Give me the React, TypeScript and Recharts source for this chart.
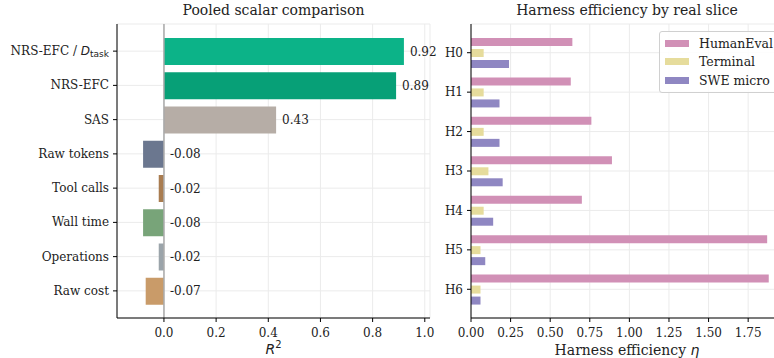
import React from "react";
import {
  Bar,
  BarChart,
  CartesianGrid,
  Cell,
  LabelList,
  ReferenceLine,
  XAxis,
  YAxis,
} from "recharts";

const metrics = [
  "NRS-EFC / D_task",
  "NRS-EFC",
  "SAS",
  "Raw tokens",
  "Tool calls",
  "Wall time",
  "Operations",
  "Raw cost",
];
const r2 = [0.92, 0.89, 0.43, -0.08, -0.02, -0.08, -0.02, -0.07];
const metricColors = [
  "#0cb388",
  "#07a077",
  "#b6ada6",
  "#6b778f",
  "#a97c50",
  "#78a479",
  "#9ba4aa",
  "#c99b69",
];

const harnesses = ["H0", "H1", "H2", "H3", "H4", "H5", "H6"];
const humanEval = [0.64, 0.63, 0.76, 0.89, 0.7, 1.87, 1.88];
const terminal = [0.08, 0.08, 0.08, 0.11, 0.08, 0.06, 0.06];
const sweMicro = [0.24, 0.18, 0.18, 0.2, 0.14, 0.09, 0.06];

const sliceSeries = [
  { key: "humanEval", name: "HumanEval", color: "#d190b6" },
  { key: "terminal", name: "Terminal", color: "#e6dc9c" },
  { key: "sweMicro", name: "SWE micro", color: "#8f87c2" },
];

const r2Rows = metrics.map((m, i) => ({ metric: m, r2: r2[i] }));
const sliceRows = harnesses.map((h, i) => ({
  harness: h,
  humanEval: humanEval[i],
  terminal: terminal[i],
  sweMicro: sweMicro[i],
}));

const SERIF = "'DejaVu Serif', serif";
const SANS = "'DejaVu Sans', sans-serif";
const INK = "#222";
const GRID = "#ebebeb";

function MetricTick({ x, y, payload }: any) {
  const v: string = payload.value;
  if (v === "NRS-EFC / D_task") {
    return (
      <text x={x} y={y} textAnchor="end" dominantBaseline="central" fill={INK} fontSize={12}>
        <tspan fontFamily={SERIF}>NRS-EFC / </tspan>
        <tspan fontFamily={SANS} fontStyle="italic">D</tspan>
        <tspan fontFamily={SANS} fontSize={9} dy={3}>task</tspan>
      </text>
    );
  }
  return (
    <text x={x} y={y} textAnchor="end" dominantBaseline="central" fill={INK} fontSize={12} fontFamily={SERIF}>
      {v}
    </text>
  );
}

// value printed just right of the bar end (or of zero for negative bars)
function ValueLabel({ x, y, width, height, value }: any) {
  const right = Math.max(x, x + width);
  return (
    <text
      x={right + 6}
      y={y + height / 2}
      dominantBaseline="central"
      fontFamily={SERIF}
      fontSize={12}
      fill={INK}
    >
      {Number(value).toFixed(2)}
    </text>
  );
}

function SliceLegend() {
  return (
    <div
      style={{
        position: "absolute",
        left: 659,
        top: 31,
        border: "1px solid #d0d0d0",
        borderRadius: 3,
        background: "rgba(255,255,255,0.85)",
        padding: "2px 8px 2px 5px",
        width: 120,
      }}
    >
      {sliceSeries.map((s) => (
        <div key={s.key} style={{ display: "flex", alignItems: "center", height: 18.5 }}>
          <span style={{ width: 24, height: 7, background: s.color, marginRight: 10 }} />
          <span style={{ fontFamily: SERIF, fontSize: 12.5, color: INK }}>{s.name}</span>
        </div>
      ))}
    </div>
  );
}

const titleStyle: React.CSSProperties = {
  position: "absolute",
  top: 2,
  fontFamily: SERIF,
  fontSize: 14,
  color: INK,
  textAlign: "center",
  whiteSpace: "nowrap",
};

export default function App() {
  return (
    <div
      style={{
        position: "absolute",
        left: 0,
        top: 0,
        width: 774,
        height: 358,
        overflow: "hidden",
        background: "#fff",
      }}
    >
      <div style={{ ...titleStyle, left: 117, width: 313 }}>Pooled scalar comparison</div>
      <div style={{ ...titleStyle, left: 471, width: 312 }}>Harness efficiency by real slice</div>

      <div style={{ position: "absolute", left: 0, top: 0 }}>
        <BarChart
          width={440}
          height={358}
          data={r2Rows}
          layout="vertical"
          margin={{ top: 24, right: 10, bottom: 0, left: 0 }}
        >
          <CartesianGrid stroke={GRID} />
          <XAxis
            type="number"
            domain={[-0.18, 1.02]}
            ticks={[0, 0.2, 0.4, 0.6, 0.8, 1.0]}
            tickFormatter={(v: number) => v.toFixed(1)}
            allowDataOverflow
            height={40}
            stroke="#000"
            tickSize={4}
            tickMargin={6}
            tick={{ fontFamily: SERIF, fontSize: 12, fill: INK }}
            label={({ viewBox }: any) => (
              <text
                x={viewBox.x + viewBox.width / 2}
                y={354}
                textAnchor="middle"
                fontFamily={SANS}
                fontSize={14}
                fill={INK}
              >
                <tspan fontStyle="italic">R</tspan>
                <tspan fontSize={10} dy={-6}>2</tspan>
              </text>
            )}
          />
          <YAxis
            type="category"
            dataKey="metric"
            width={117}
            padding={{ top: 10, bottom: 10 }}
            stroke="#000"
            tickSize={4}
            tickMargin={4}
            tick={<MetricTick />}
          />
          <Bar dataKey="r2" barSize={27} isAnimationActive={false}>
            {r2Rows.map((_, i) => (
              <Cell key={i} fill={metricColors[i]} />
            ))}
            <LabelList dataKey="r2" content={<ValueLabel />} />
          </Bar>
          <ReferenceLine x={0} stroke="#aaa" strokeWidth={1.5} />
        </BarChart>
      </div>

      <div style={{ position: "absolute", left: 440, top: 0 }}>
        <BarChart
          width={350}
          height={358}
          data={sliceRows}
          layout="vertical"
          barGap={3}
          margin={{ top: 24, right: 7, bottom: 0, left: 0 }}
        >
          <CartesianGrid stroke={GRID} />
          <XAxis
            type="number"
            domain={[0, 1.97]}
            ticks={[0, 0.25, 0.5, 0.75, 1.0, 1.25, 1.5, 1.75]}
            tickFormatter={(v: number) => v.toFixed(2)}
            interval={0}
            allowDataOverflow
            height={40}
            stroke="#000"
            tickSize={4}
            tickMargin={6}
            tick={{ fontFamily: SERIF, fontSize: 12, fill: INK }}
            label={() => (
              <text
                x={187}
                y={355}
                textAnchor="middle"
                fontFamily={SERIF}
                fontSize={14}
                fill={INK}
              >
                Harness efficiency{" "}
                <tspan fontFamily={SANS} fontStyle="italic">η</tspan>
              </text>
            )}
          />
          <YAxis
            type="category"
            dataKey="harness"
            width={31}
            padding={{ top: 9, bottom: 9 }}
            stroke="#000"
            tickSize={4}
            tickMargin={4}
            tick={{ fontFamily: SERIF, fontSize: 12, fill: INK }}
          />
          {sliceSeries.map((s) => (
            <Bar
              key={s.key}
              dataKey={s.key}
              name={s.name}
              fill={s.color}
              barSize={8}
              isAnimationActive={false}
            />
          ))}
        </BarChart>
      </div>

      <SliceLegend />
    </div>
  );
}
